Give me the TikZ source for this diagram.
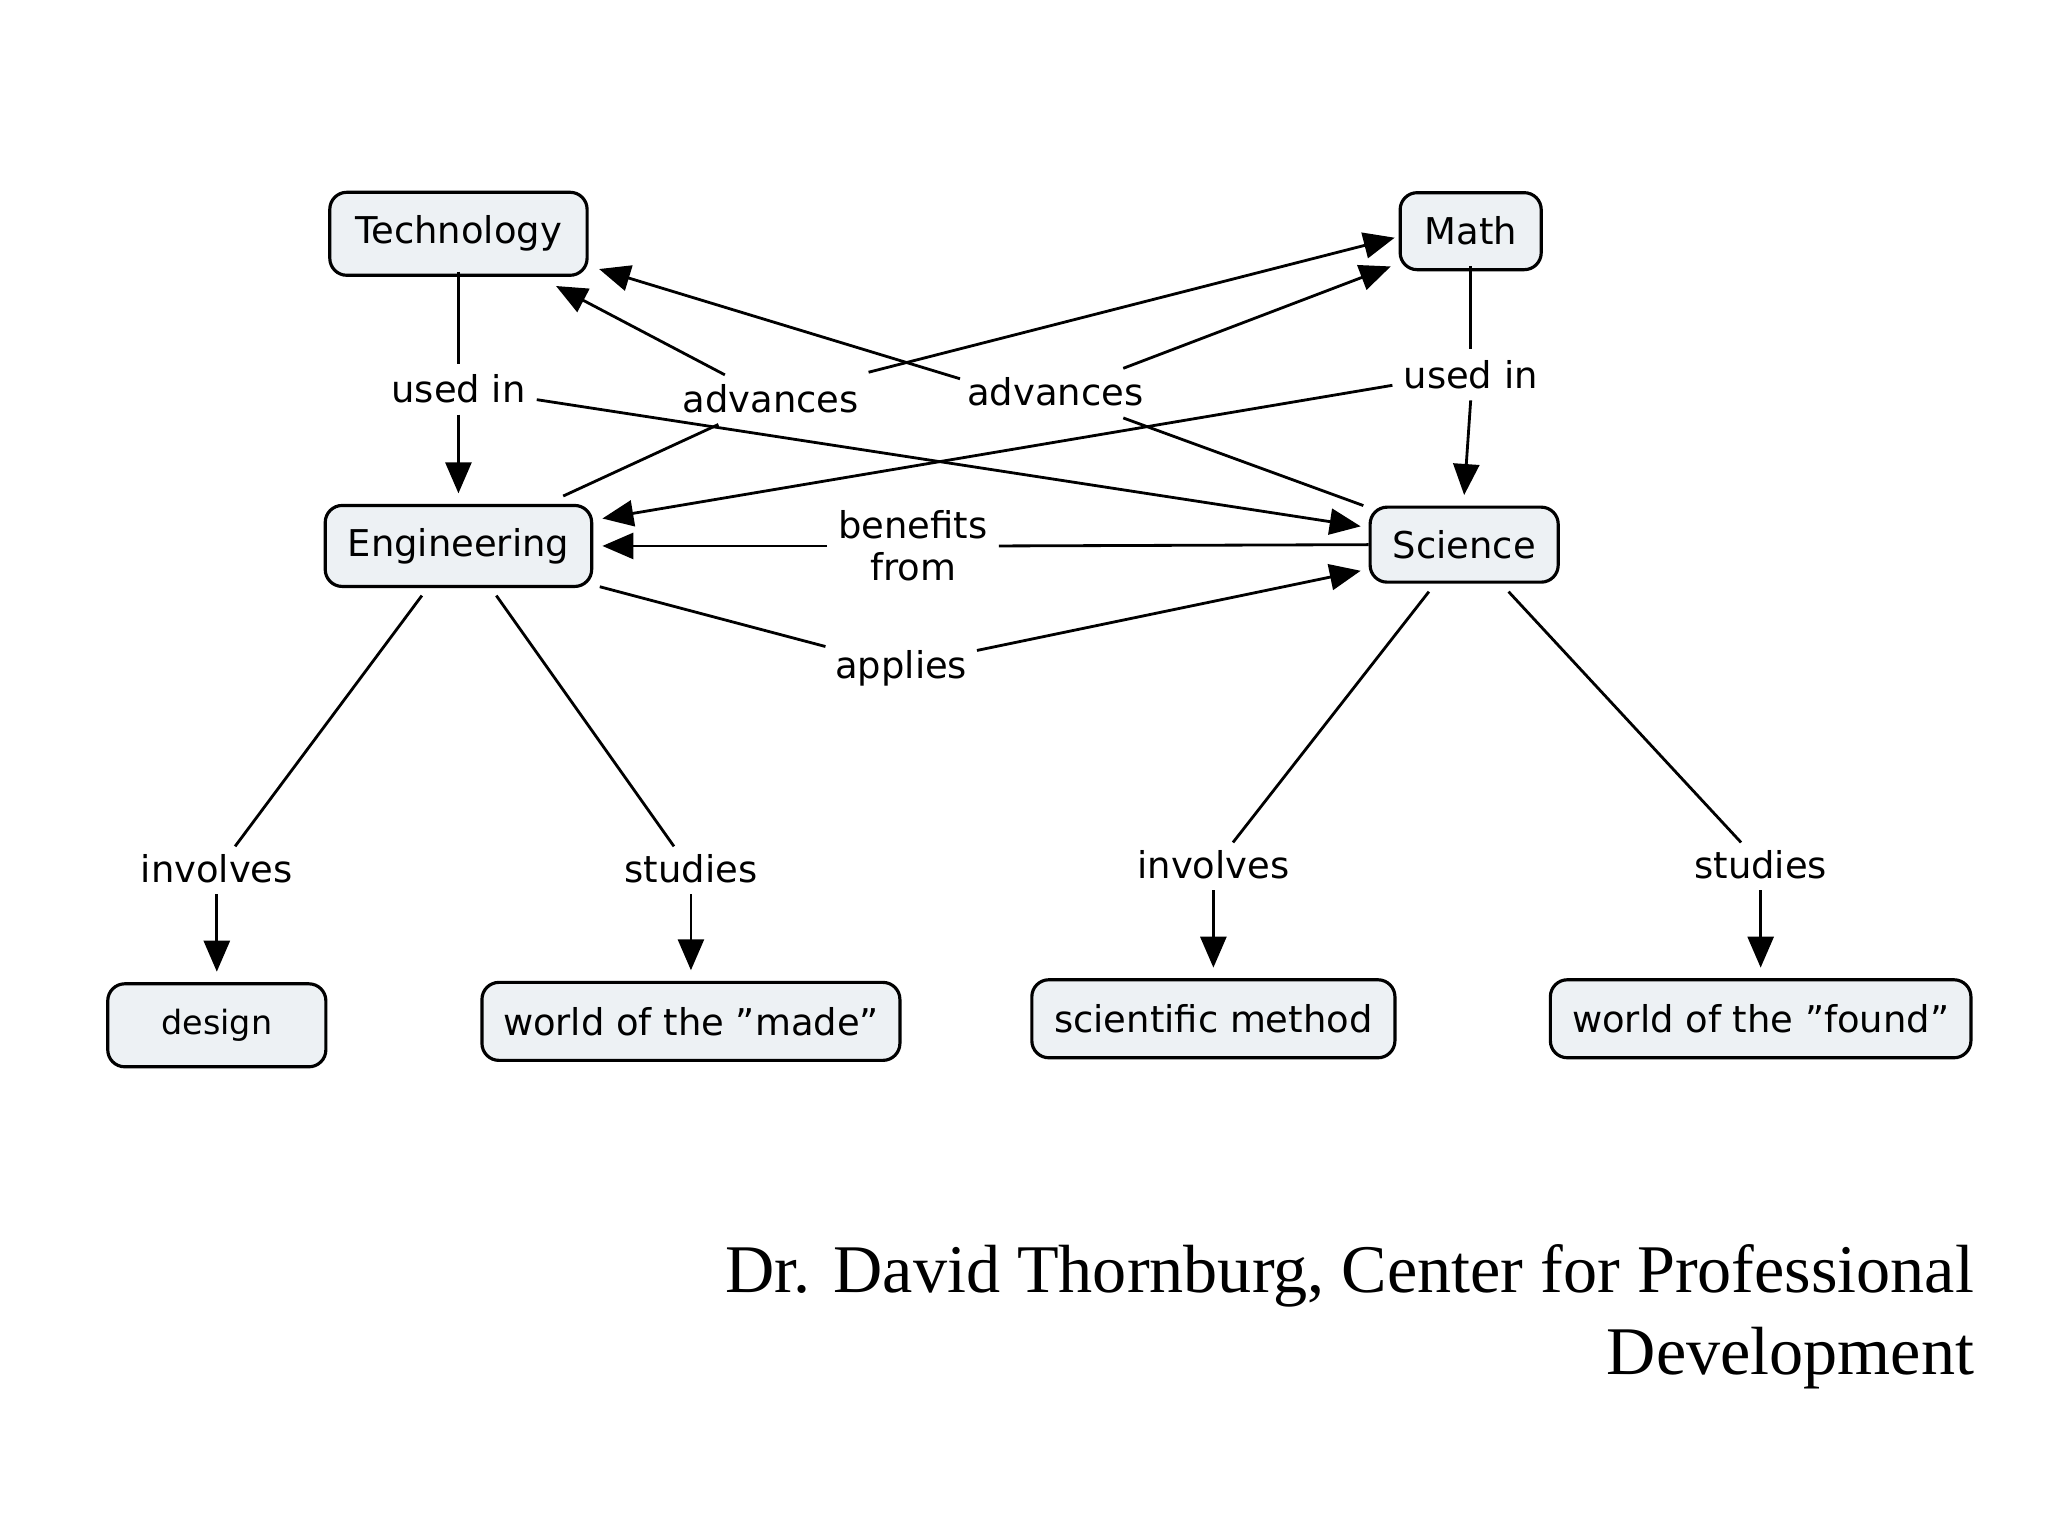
\documentclass[tikz,border=0pt]{standalone}
\usepackage{fontspec}
\setmainfont{DejaVu Sans}
\newfontfamily\authorfont{Liberation Serif}
\usetikzlibrary{arrows.meta}
\definecolor{boxfill}{HTML}{EDF1F4}
\newcommand{\dq}{\char34\relax}
\begin{document}
\begin{tikzpicture}[x=0.01306cm,y=-0.01306cm,
  box/.style={draw,line width=0.9pt,rounded corners=0.17cm,fill=boxfill,minimum height=#1,inner sep=0pt,font=\fontsize{10.5}{12}\selectfont},
  lbl/.style={inner sep=3pt,font=\fontsize{10.5}{12}\selectfont,align=center},
  ln/.style={line width=0.8pt},
  ar/.style={line width=0.8pt,-{Triangle[length=0.31cm,width=0.26cm]}}]
\useasboundingbox (0,0) rectangle (1568,1176);
\node[box=0.83cm,minimum width=197*0.01306cm] (tech) at (351,179) {Technology};
\node[box=0.77cm,minimum width=108*0.01306cm] (math) at (1126,177) {Math};
\node[box=0.81cm,minimum width=204*0.01306cm] (eng) at (351,418) {Engineering};
\node[box=0.75cm,minimum width=144*0.01306cm] (sci) at (1121,417) {Science};
\node[box=0.83cm,minimum width=167*0.01306cm,font=\fontsize{9.5}{11}\selectfont] (des) at (166,785) {design};
\node[box=0.78cm,minimum width=320*0.01306cm] (made) at (529,782) {world of the \dq made\dq};
\node[box=0.78cm,minimum width=278*0.01306cm] (sm) at (929,780) {scientific method};
\node[box=0.78cm,minimum width=322*0.01306cm] (found) at (1348,780) {world of the \dq found\dq};

\node[lbl] (u1) at (351,298) {used in};
\node[lbl] (u2) at (1126,287) {used in};
\node[lbl] (a1) at (590,305) {advances};
\node[lbl] (a2) at (808,300) {advances};
\node[lbl] (bf) at (699,418) {benefits\\from};
\node[lbl] (ap) at (690,512) {applies};
\node[lbl] (i1) at (166,665) {involves};
\node[lbl] (s1) at (529,665) {studies};
\node[lbl] (i2) at (929,662) {involves};
\node[lbl] (s2) at (1348,662) {studies};

\draw[ln] (tech.south) ++(0,-4) -- (u1.north);
\draw[ar] (u1.south) -- ([yshift=3pt]eng.north);
\draw[ar] (u1.east) ++(0,8) -- ([shift={(-6,-14)}]sci.west);
\draw[ln] (math.south) ++(0,-4) -- (u2.north);
\draw[ar] (u2.south) -- ([yshift=3pt]sci.north);
\draw[ar] (u2.west) ++(0,8) -- ([shift={(7,-21)}]eng.east);

\draw[ln] ([shift={(-23,-6)}]eng.north east) -- (550,325);
\draw[ar] (555,287) -- ([shift={(-25,7)}]tech.south east);
\draw[ar] (665,285) -- ([shift={(-3,5)}]math.west);
\draw[ln] ([shift={(-4,0)}]sci.north west) -- (860,320);
\draw[ar] (735,290) -- ([shift={(8,-6)}]tech.south east);
\draw[ar] (860,282) -- ([shift={(-6,27)}]math.west);

\draw[ln] (sci.west) -- (bf.east);
\draw[ar] (bf.west) -- ([shift={(7,0)}]eng.east);
\draw[ln] ([shift={(5,-1)}]eng.south east) -- (632,495);
\draw[ar] (748,498) -- ([shift={(-6,20)}]sci.west);

\draw[ln] (323,456) -- (180,648);
\draw[ar] (i1.south) -- ([yshift=3pt]des.north);
\draw[ln] (380,456) -- (516,648);
\draw[ar] (s1.south) -- ([yshift=3pt]made.north);
\draw[ln] (1094,453) -- (944,645);
\draw[ar] (i2.south) -- ([yshift=3pt]sm.north);
\draw[ln] (1155,453) -- (1333,645);
\draw[ar] (s2.south) -- ([yshift=3pt]found.north);

\node[anchor=north east,align=right,inner sep=0pt,font=\authorfont\fontsize{19.4}{23.5}\selectfont] (auth) at (1512,952) {Dr. David Thornburg, Center for Professional\\Development};
\end{tikzpicture}
\end{document}
